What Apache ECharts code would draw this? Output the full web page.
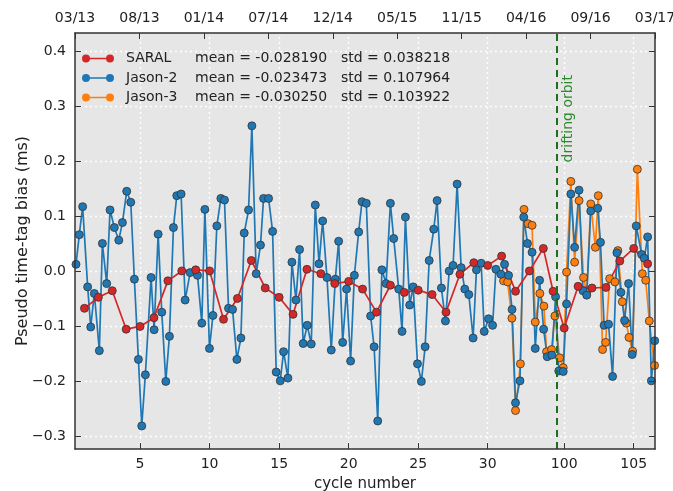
<!DOCTYPE html>
<html><head><meta charset="utf-8">
<script src="https://cdn.jsdelivr.net/npm/echarts@6/dist/echarts.min.js"></script>
<style>html,body{margin:0;padding:0;background:#fff}#c{width:673px;height:491px}</style>
</head><body><div id="c"></div>
<script>
// ---------------- data ----------------
const saralCycles = [1,2,3,4,5,6,7,8,9,10,11,12,13,14,15,16,17,18,19,20,21,22,23,24,25,26,27,28,29,30,31,32,33,34,34.7,100,101,102,103,104,105,106];
const saralBias = [-0.067,-0.047,-0.035,-0.105,-0.100,-0.084,-0.017,0.001,0.003,0.001,-0.087,-0.049,0.020,-0.030,-0.047,-0.078,0.004,-0.004,-0.022,-0.018,-0.032,-0.074,-0.025,-0.038,-0.034,-0.042,-0.074,-0.005,0.016,0.011,0.028,-0.036,0.001,0.042,-0.036,-0.103,-0.027,-0.030,-0.029,0.019,0.042,0.014];

// Jason-2 / Jason-3 positions expressed on the SARAL cycle axis
const jason2Pos = [0.39,0.63,0.87,1.23,1.45,1.71,2.07,2.29,2.60,2.84,3.15,3.47,3.73,4.04,4.33,4.59,4.88,5.12,5.38,5.79,6.01,6.30,6.56,6.85,7.11,7.40,7.64,7.95,8.24,8.60,9.13,9.44,9.66,9.99,10.24,10.52,10.81,11.07,11.36,11.65,11.96,12.25,12.49,12.80,13.04,13.35,13.66,13.88,14.24,14.53,14.79,15.08,15.32,15.63,15.92,16.21,16.47,16.73,17.02,17.31,17.60,17.87,18.13,18.44,18.75,19.04,19.28,19.57,19.85,20.14,20.41,20.72,20.96,21.27,21.58,21.83,22.09,22.39,22.69,23.00,23.24,23.60,23.84,24.08,24.39,24.64,24.95,25.23,25.50,25.79,26.12,26.36,26.67,26.96,27.23,27.51,27.80,28.09,28.35,28.64,28.95,29.19,29.53,29.75,30.06,30.35,30.59,30.95,31.21,31.50,31.75,32.00,32.32,32.59,32.86,33.19,33.42,33.73,34.02,34.28,34.61,34.88,35.11,35.43,35.67,35.98,36.25,36.57,36.85,37.12,37.41,37.91,38.11,38.37,38.69,38.98,39.29,39.58,39.84,40.13,40.39,40.68,41.07,41.26,41.50,41.77,42.01];
const jason2Bias = [0.013,0.067,0.118,-0.028,-0.101,-0.040,-0.144,0.051,-0.022,0.112,0.080,0.057,0.089,0.146,0.126,-0.014,-0.160,-0.281,-0.188,-0.011,-0.106,0.068,-0.074,-0.200,-0.118,0.080,0.138,0.141,-0.052,-0.002,-0.007,-0.094,0.113,-0.140,-0.080,0.083,0.133,0.130,-0.067,-0.069,-0.160,-0.121,0.070,0.112,0.265,-0.004,0.048,0.133,0.133,0.073,-0.183,-0.199,-0.146,-0.194,0.017,-0.052,0.040,-0.131,-0.098,-0.132,0.121,0.014,0.092,-0.011,-0.143,-0.014,0.055,-0.129,-0.032,-0.163,-0.007,0.072,0.127,0.124,-0.081,-0.137,-0.272,0.003,-0.022,0.124,0.060,-0.032,-0.109,0.099,-0.061,-0.028,-0.168,-0.200,-0.137,0.020,0.077,0.129,-0.030,-0.090,0.001,0.011,0.159,0.007,-0.032,-0.042,-0.121,0.003,0.015,-0.109,-0.086,-0.098,0.004,-0.005,0.013,-0.007,-0.069,-0.239,-0.199,0.099,0.051,0.035,-0.140,-0.016,-0.105,-0.155,-0.152,-0.046,-0.181,-0.182,-0.059,0.141,0.044,0.148,-0.035,-0.043,0.110,0.115,0.053,-0.098,-0.096,-0.191,0.034,-0.038,-0.089,-0.022,-0.151,0.083,0.031,0.024,0.063,-0.199,-0.126];
const jason3Pos = [31.14,31.43,31.74,32.00,32.35,32.61,32.90,33.19,33.42,33.75,34.04,34.23,34.59,34.83,35.17,35.43,35.67,35.98,36.25,36.57,36.89,37.12,37.41,37.74,37.95,38.26,38.48,38.77,39.15,39.36,39.68,39.97,40.16,40.42,40.76,41.12,41.36,41.62,42.00];
const jason3Bias = [-0.017,-0.019,-0.085,-0.253,-0.168,0.113,0.087,0.084,-0.092,-0.040,-0.063,-0.146,-0.142,-0.081,-0.157,-0.175,-0.001,0.164,0.017,0.129,-0.011,-0.038,0.123,0.044,0.138,-0.142,-0.129,-0.013,-0.019,0.038,-0.055,-0.094,-0.120,-0.145,0.186,-0.004,-0.016,-0.090,-0.171];

const seriesNames = ['SARAL','Jason-2','Jason-3'];
const seriesMeans = ['-0.028190','-0.023473','-0.030250'];
const seriesStds  = ['0.038218','0.107964','0.103922'];

const cycleTicks = [5,10,15,20,25,30,100,105];
const dateTicks = ['03/13','08/13','01/14','07/14','12/14','05/15','11/15','04/16','09/16','03/17'];
const biasTicks = [-0.3,-0.2,-0.1,0.0,0.1,0.2,0.3,0.4];
const driftStart = 34.95;   // start of drifting orbit (cycle axis)
const driftOffset = 64.5;   // drifting cycles 100+ sit right after cycle 35

// --------------- helpers ---------------
const FONT = 'DejaVu Sans';
const toAxis = c => c >= 100 ? c - driftOffset : c;
const fromAxis = u => u > driftStart ? Math.round(u + driftOffset) : Math.round(u);
const fmtY = v => (v < 0 ? '\u2212' : '') + Math.abs(v).toFixed(1);
const pairs = (xs, ys, f) => xs.map((x, i) => [f ? f(x) : x, ys[i]]);

const X_MIN = 0.32, X_MAX = 42.03, Y_MIN = -0.323, Y_MAX = 0.434;
const spine = {show: true, onZero: false, lineStyle: {color: '#333', width: 1.5}};
const tickStyle = {color: '#333', width: 1};
const lblStyle = {fontFamily: FONT, fontSize: 14, color: '#222'};

const chart = echarts.init(document.getElementById('c'), null, {renderer: 'canvas'});

const mk = (name, color, data) => ({
  name, type: 'line', data, xAxisIndex: 0, yAxisIndex: 0,
  symbol: 'circle', symbolSize: 8, showSymbol: true,
  lineStyle: {color, width: 1.7},
  itemStyle: {color, borderColor: '#333', borderWidth: 0.8},
  emphasis: {disabled: true}, animation: false, z: 2
});

const option = {
  animation: false,
  backgroundColor: '#fff',
  grid: {left: 75, right: 18, top: 33, bottom: 42, show: true, backgroundColor: '#e6e6e6', borderWidth: 0,
         containLabel: false, outerBoundsMode: 'none'},
  xAxis: [
    {
      type: 'value', position: 'bottom', min: X_MIN, max: X_MAX,
      axisLine: spine,
      axisTick: {show: true, inside: true, length: 6, customValues: cycleTicks.map(toAxis), lineStyle: tickStyle},
      axisLabel: Object.assign({customValues: cycleTicks.map(toAxis), formatter: v => String(fromAxis(v)), margin: 8}, lblStyle),
      splitLine: {show: false},
      name: 'cycle number', nameLocation: 'middle', nameGap: 28, nameMoveOverlap: false,
      nameTextStyle: {fontFamily: FONT, fontSize: 15, color: '#222'}, z: 10
    },
    {
      type: 'value', position: 'top', min: 0, max: dateTicks.length - 1, interval: 1,
      axisLine: spine,
      axisTick: {show: true, inside: true, length: 6, lineStyle: tickStyle},
      axisLabel: Object.assign({formatter: v => dateTicks[Math.round(v)] || '', margin: 8, showMinLabel: true, showMaxLabel: true}, lblStyle),
      splitLine: {show: false}, z: 10
    }
  ],
  yAxis: [
    {
      type: 'value', position: 'left', min: Y_MIN, max: Y_MAX,
      axisLine: spine,
      axisTick: {show: true, inside: true, length: 6, customValues: biasTicks, lineStyle: tickStyle},
      axisLabel: Object.assign({customValues: biasTicks, formatter: v => fmtY(v), margin: 9}, lblStyle),
      splitLine: {show: false},
      name: 'Pseudo time-tag bias (ms)', nameLocation: 'middle', nameGap: 44, nameRotate: 90, nameMoveOverlap: false,
      nameTextStyle: {fontFamily: FONT, fontSize: 16, color: '#222'}, z: 10
    },
    {
      type: 'value', position: 'right', min: Y_MIN, max: Y_MAX,
      axisLine: spine,
      axisTick: {show: true, inside: true, length: 6, customValues: biasTicks, lineStyle: tickStyle},
      axisLabel: {show: false}, splitLine: {show: false}, z: 10
    }
  ],
  legend: {
    data: seriesNames, orient: 'vertical', left: 77, top: 45,
    itemWidth: 46, itemHeight: 8, itemGap: 2.5,
    icon: 'path://M0,4a4,4 0 1,1 8,0a4,4 0 1,1 -8,0zM7,3.2h18v1.6h-18zM24,4a4,4 0 1,1 8,0a4,4 0 1,1 -8,0z',
    itemStyle: {borderWidth: 0},
    selectedMode: false,
    textStyle: {
      fontFamily: FONT, fontSize: 14, color: '#222', lineHeight: 17,
      rich: {
        n: {fontFamily: FONT, fontSize: 14, color: '#222', width: 69},
        m: {fontFamily: FONT, fontSize: 14, color: '#222', width: 146},
        s: {fontFamily: FONT, fontSize: 14, color: '#222'}
      }
    },
    formatter: name => {
      const i = seriesNames.indexOf(name);
      return '{n|' + name + '}{m|mean = ' + seriesMeans[i] + '}{s|std = ' + seriesStds[i] + '}';
    }
  },
  series: [
    {
      name: 'gridlines', type: 'line', data: [], silent: true, animation: false, z: 1,
      markLine: {
        silent: true, symbol: ['none', 'none'], label: {show: false}, animation: false, z: 1,
        lineStyle: {color: '#ffffff', type: [2, 3], width: 1.4, opacity: 1},
        emphasis: {disabled: true},
        data: cycleTicks.map(c => ({xAxis: toAxis(c)})).concat(biasTicks.map(v => ({yAxis: v})))
      }
    },
    mk('Jason-3', '#ff7f0e', pairs(jason3Pos, jason3Bias)),
    mk('Jason-2', '#1f77b4', pairs(jason2Pos, jason2Bias)),
    mk('SARAL', '#d62728', pairs(saralCycles, saralBias, toAxis)),
    {
      name: 'drift', type: 'line', data: [], silent: true, animation: false, z: 3,
      markLine: {
        silent: true, symbol: ['none', 'none'], label: {show: false}, animation: false, z: 3,
        lineStyle: {color: '#1e6e1e', type: [7, 5], width: 2, opacity: 1},
        emphasis: {disabled: true},
        data: [{xAxis: driftStart}]
      }
    }
  ]
};
chart.setOption(option);

const px = chart.convertToPixel({xAxisIndex: 0}, driftStart);
const py = chart.convertToPixel({yAxisIndex: 0}, Y_MAX);
chart.setOption({
  graphic: [{
    type: 'text', x: px + 12, y: py + 42, rotation: Math.PI / 2, silent: true, z: 20,
    style: {text: 'drifting orbit', fill: '#2b8a2b', font: '14px "DejaVu Sans"', align: 'right', verticalAlign: 'middle'}
  }]
});
</script>
</body></html>
